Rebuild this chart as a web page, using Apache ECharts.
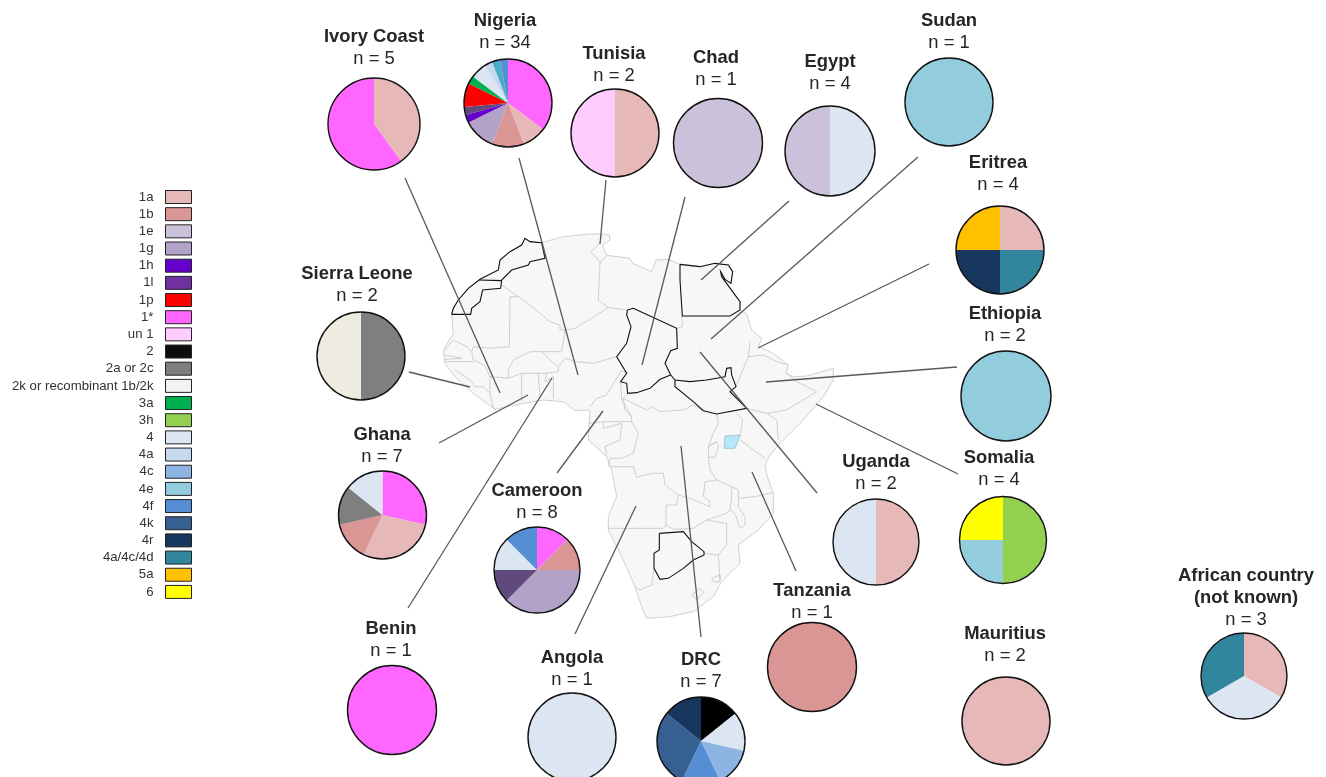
<!DOCTYPE html>
<html>
<head>
<meta charset="utf-8">
<title>Genotypes by African country</title>
<script src="https://cdn.jsdelivr.net/npm/echarts@6/dist/echarts.min.js"></script>
<style>
html, body { margin: 0; padding: 0; background: #fff; }
#chart { width: 1326px; height: 777px; }
</style>
</head>
<body>
<div id="chart"></div>
<script>
'use strict';
// legend
var genotypes = ['1a', '1b', '1e', '1g', '1h', '1l', '1p', '1*', 'un 1', '2', '2a or 2c', '2k or recombinant 1b/2k',
    '3a', '3h', '4', '4a', '4c', '4e', '4f', '4k', '4r', '4a/4c/4d', '5a', '6'];
var genotypeColors = ['#E6B8B7', '#D99694', '#CCC1DA', '#B3A2C7', '#6600CC', '#7030A0', '#FF0000', '#FF66FF', '#FFCCFF', '#0D0D0D', '#7F7F7F', '#F2F2F2',
    '#00B050', '#92D050', '#DCE6F2', '#C6D9F1', '#8EB4E3', '#93CDDD', '#558ED5', '#376092', '#17375E', '#31859C', '#FFC000', '#FFFF00'];
// a few slices are drawn in another shade than their legend box
var sliceColors = { '1l': '#604A7B', '2': '#000000', '2k or recombinant 1b/2k': '#EEECE1' };

// counts per country, clockwise from 12 o'clock
var ivoryCoast = [['1a', 2], ['1*', 3]];
var nigeria = [['1*', 12], ['1a', 3], ['1b', 4], ['1g', 4], ['1h', 1], ['1l', 1], ['1p', 3], ['3a', 1], ['4', 2], ['4a', 1], ['4e', 1, '#4BACC6'], ['4f', 1]];
var tunisia = [['1a', 1], ['un 1', 1]];
var chad = [['1e', 1]];
var egypt = [['4', 2], ['1e', 2]];
var sudan = [['4e', 1]];
var eritrea = [['1a', 1], ['4a/4c/4d', 1], ['4r', 1], ['5a', 1]];
var ethiopia = [['4e', 2]];
var somalia = [['3h', 2], ['4e', 1], ['6', 1]];
var uganda = [['1a', 1], ['4', 1]];
var tanzania = [['1b', 1]];
var mauritius = [['1a', 2]];
var unknownCountry = [['1a', 1], ['4', 1], ['4a/4c/4d', 1]];
var drc = [['2', 1], ['4', 1], ['4c', 1], ['4f', 1], ['4k', 2], ['4r', 1]];
var angola = [['4', 1]];
var benin = [['1*', 1]];
var cameroon = [['1*', 1], ['1b', 1], ['1g', 3], ['1l', 1], ['4', 1], ['4f', 1]];
var ghana = [['1*', 2], ['1a', 2], ['1b', 1], ['2a or 2c', 1], ['4', 1]];
var sierraLeone = [['2a or 2c', 1], ['2k or recombinant 1b/2k', 1]];

// name, n, slices
var countries = [
    { label: 'Ivory Coast', n: 5, slices: ivoryCoast, cx: 374, cy: 124, r: 46, tx: 374, ty: 36 },
    { label: 'Nigeria', n: 34, slices: nigeria, cx: 508, cy: 103, r: 44, tx: 505, ty: 20 },
    { label: 'Tunisia', n: 2, slices: tunisia, cx: 615, cy: 133, r: 44, tx: 614, ty: 53 },
    { label: 'Chad', n: 1, slices: chad, cx: 718, cy: 143, r: 44.5, tx: 716, ty: 57 },
    { label: 'Egypt', n: 4, slices: egypt, cx: 830, cy: 151, r: 45, tx: 830, ty: 61 },
    { label: 'Sudan', n: 1, slices: sudan, cx: 949, cy: 102, r: 44, tx: 949, ty: 20 },
    { label: 'Eritrea', n: 4, slices: eritrea, cx: 1000, cy: 250, r: 44, tx: 998, ty: 162 },
    { label: 'Ethiopia', n: 2, slices: ethiopia, cx: 1006, cy: 396, r: 45, tx: 1005, ty: 313 },
    { label: 'Somalia', n: 4, slices: somalia, cx: 1003, cy: 540, r: 43.5, tx: 999, ty: 457 },
    { label: 'Uganda', n: 2, slices: uganda, cx: 876, cy: 542, r: 43, tx: 876, ty: 461 },
    { label: 'Tanzania', n: 1, slices: tanzania, cx: 812, cy: 667, r: 44.5, tx: 812, ty: 590 },
    { label: 'Mauritius', n: 2, slices: mauritius, cx: 1006, cy: 721, r: 44, tx: 1005, ty: 633 },
    { label: 'African country\n(not known)', n: 3, slices: unknownCountry, cx: 1244, cy: 676, r: 43, tx: 1246, ty: 575 },
    { label: 'DRC', n: 7, slices: drc, cx: 701, cy: 741, r: 44, tx: 701, ty: 659 },
    { label: 'Angola', n: 1, slices: angola, cx: 572, cy: 737, r: 44, tx: 572, ty: 657 },
    { label: 'Benin', n: 1, slices: benin, cx: 392, cy: 710, r: 44.5, tx: 391, ty: 628 },
    { label: 'Cameroon', n: 8, slices: cameroon, cx: 537, cy: 570, r: 43, tx: 537, ty: 490 },
    { label: 'Ghana', n: 7, slices: ghana, cx: 382.5, cy: 515, r: 44, tx: 382, ty: 434 },
    { label: 'Sierra Leone', n: 2, slices: sierraLeone, cx: 361, cy: 356, r: 44, tx: 357, ty: 273 }
];

// leader lines, page pixels
var leaders = [
    [[405, 178], [500, 393]], [[519, 158], [578, 375]], [[606, 180], [600, 244]], [[685, 197], [642, 365]],
    [[789, 201], [701, 280]], [[918, 157], [711, 339]], [[929, 264], [758, 348]], [[957, 367], [766, 382]],
    [[958, 474], [816, 404]], [[817, 493], [700, 352]], [[796, 571], [752, 472]], [[701, 637], [681, 446]],
    [[575, 634], [636, 506]], [[557, 473], [603, 411]], [[408, 608], [552, 378]], [[439, 443], [528, 395]],
    [[409, 372], [470, 387]]
];

// map outlines traced at 3x, origin at (430, 220)
var coast = [[285,55],[300,65],[335,68],[400,50],[480,42],[515,42],[538,45],[540,60],[518,75],[530,105],[545,108],[600,115],[608,130],[665,155],[678,120],[715,118],[750,133],
    [810,140],[855,130],[895,135],[908,155],[903,190],[885,178],[872,155],[875,170],[930,245],[930,270],[950,282],[965,330],[995,355],[985,380],[1030,400],[1075,435],[1068,460],[1090,470],[1130,468],[1210,445],[1210,480],[1180,530],[1120,600],[1050,670],
    [1020,705],[1005,735],[1012,770],[1030,820],[1030,880],[985,930],[925,975],[930,1030],[875,1085],[850,1130],[790,1175],[720,1190],[650,1195],[635,1160],[615,1100],[580,1020],[535,930],[535,890],[560,830],[545,750],[530,710],[475,660],[480,570],
    [435,572],[400,545],[340,540],[280,550],[195,568],[130,520],[75,470],[45,430],[40,390],[70,340],[65,283],[70,265],[85,240],[115,205],[150,178],[205,150],[210,120],[240,95],[275,75]];
var lakeVictoria = [[885,648],[930,645],[925,660],[915,685],[882,685]];
var greyBorders = [
    [[215,195],[300,255],[360,305],[390,315],[390,330],[405,330],[435,325],[535,263],[592,270]],
    [[240,230],[265,230]], [[240,230],[238,380],[180,385],[130,380],[125,395]],
    [[45,390],[70,360],[110,380],[125,395],[130,420],[165,437],[180,470],[235,475],[275,460],[325,460],[350,460],[385,455],[385,440],[405,415],[440,425],[490,430],[560,410]],
    [[235,475],[235,450],[250,420],[300,395],[335,395],[365,425],[385,440]], [[335,395],[395,395],[405,330]],
    [[275,460],[275,545]], [[325,460],[330,537]], [[350,460],[345,485],[370,470]], [[370,470],[370,537]],
    [[45,405],[70,410],[95,415],[45,418]], [[45,425],[130,425]], [[75,450],[120,480],[135,500],[160,500],[180,520],[190,565]], [[180,470],[180,520]],
    [[480,560],[500,535],[530,525],[575,450],[590,460]], [[572,485],[575,540],[605,590],[605,605],[520,605]],
    [[475,610],[520,605],[520,625],[575,610],[570,660],[525,680],[530,705]],
    [[605,605],[625,640],[610,700],[575,715],[540,715],[535,740]],
    [[593,520],[580,535],[585,570],[605,590]], [[580,535],[650,570],[665,560],[690,575],[760,570],[790,555],[820,572]],
    [[860,582],[865,610],[850,640],[835,680],[835,712],[840,750],[860,780],[825,785],[820,830],[840,845],[840,860],[815,850],[780,835],[745,825],[705,795],[700,760],[665,760],[620,772],[610,740],[540,740]],
    [[745,825],[740,855],[708,855],[708,915],[730,928],[790,925],[830,900],[890,880],[900,870]],
    [[535,925],[620,925],[700,925],[708,915]],
    [[905,800],[925,810],[925,860],[945,890],[945,915],[930,925],[915,880],[900,870],[905,830],[905,800]],
    [[860,780],[905,800]], [[925,835],[975,830],[1028,818]], [[930,660],[1005,715]],
    [[930,650],[938,600],[920,580]], [[835,680],[860,665],[865,680],[855,712],[835,712]],
    [[1040,600],[1045,660]], [[950,565],[1010,580],[1040,600]], [[1010,580],[1070,570],[1160,515],[1100,485],[1070,460]],
    [[955,410],[1000,405],[1040,425],[1075,435]], [[960,365],[955,410],[930,470],[918,500]],
    [[830,900],[890,910],[890,975],[865,1005],[822,1000]], [[865,1005],[870,1080]],
    [[845,1075],[870,1065],[870,1085],[850,1085],[845,1075]], [[785,1125],[810,1105],[822,1118],[800,1138],[785,1125]],
    [[672,1045],[665,1095],[630,1110],[615,1100]],
    [[505,240],[510,130],[530,105]], [[515,42],[510,70],[482,95],[510,125],[510,130]], [[505,240],[535,263]], [[610,265],[740,325]], [[755,288],[757,320],[740,325]],
    [[835,680],[860,665]]
];
var blackBorders = [
    [[65,283],[70,265],[85,240],[115,205],[150,178],[205,150],[210,120],[240,95],[275,75],[285,55],[300,65],[335,68],[345,115],[300,125],[295,135],[245,150],[215,180],[212,205],[158,210],[150,245],[125,265],[122,283],[65,283]],
    [[148,180],[215,182]],
    [[750,133],[810,140],[855,130],[895,135],[908,155],[903,190],[885,178],[872,155],[875,170],[930,245],[930,270],[900,288],[757,288],[750,180],[750,133]],
    [[592,270],[610,265],[740,325],[742,385],[722,392],[705,430],[722,465],[690,478],[660,505],[620,518],[593,520],[590,490],[572,485],[590,460],[560,410],[590,370],[603,320],[590,285],[592,270]],
    [[722,465],[735,480],[780,485],[830,480],[885,470],[890,445],[903,443],[905,465],[918,500],[900,515],[950,565],[860,582],[820,572],[790,545],[735,500],[735,480]],
    [[688,940],[760,935],[785,965],[822,995],[822,1005],[790,1020],[760,1045],[715,1075],[690,1078],[672,1045],[672,1000],[688,990],[688,940]]
];

function traced(p) {
    return [430 + p[0] / 3, -(220 + p[1] / 3)];
}
function page(p) {
    return [p[0], -p[1]];
}
function polylineData(list, fn) {
    return list.map(function (line) {
        return { coords: line.map(fn) };
    });
}

function init() {
    const africa = {
        type: 'FeatureCollection',
        features: [
            { type: 'Feature', properties: { name: 'Africa' }, geometry: { type: 'Polygon', coordinates: [coast.concat([coast[0]]).map(traced)] } },
            { type: 'Feature', properties: { name: 'Lake Victoria' }, geometry: { type: 'Polygon', coordinates: [lakeVictoria.concat([lakeVictoria[0]]).map(traced)] } }
        ]
    };
    echarts.registerMap('africa', africa);

    const series = [
        {
            type: 'lines', coordinateSystem: 'geo', polyline: true, silent: true, z: 3,
            lineStyle: { color: '#bdbdbd', width: 0.7, opacity: 1 },
            data: polylineData(greyBorders, traced)
        },
        {
            type: 'lines', coordinateSystem: 'geo', polyline: true, silent: true, z: 4,
            lineStyle: { color: '#111111', width: 1.1, opacity: 1 },
            data: polylineData(blackBorders, traced)
        },
        {
            type: 'lines', coordinateSystem: 'geo', polyline: true, silent: true, z: 5,
            lineStyle: { color: '#595959', width: 1.3, opacity: 1 },
            data: polylineData(leaders, page)
        }
    ];
    countries.forEach(function (c) {
        series.push({
            type: 'pie', silent: true, z: 6, name: c.label,
            center: [c.cx, c.cy], radius: [0, c.r], startAngle: 90,
            label: { show: false }, labelLine: { show: false },
            data: c.slices.map(function (s) {
                const color = s[2] || sliceColors[s[0]] || genotypeColors[genotypes.indexOf(s[0])];
                return { name: s[0], value: s[1], itemStyle: { color: color } };
            })
        });
        // black rim
        series.push({
            type: 'pie', silent: true, z: 7, name: c.label + ' rim',
            center: [c.cx, c.cy], radius: [0, c.r], startAngle: 90,
            label: { show: false }, labelLine: { show: false },
            data: [{ name: 'rim', value: 1, itemStyle: { color: 'none', borderColor: '#111111', borderWidth: 1.4 } }]
        });
    });

    const option = {
        animation: false,
        backgroundColor: '#ffffff',
        textStyle: { fontFamily: '"Liberation Sans", Arial, sans-serif' },
        title: countries.map(function (c) {
            return {
                text: c.label,
                subtext: 'n = ' + c.n,
                left: c.tx,
                top: c.ty - 10,
                textAlign: 'center',
                padding: 0,
                itemGap: 0,
                textStyle: { fontFamily: '"Liberation Sans", Arial, sans-serif', fontSize: 18.4, fontWeight: 'bold', color: '#262626', lineHeight: 22 },
                subtextStyle: { fontFamily: '"Liberation Sans", Arial, sans-serif', fontSize: 18.4, color: '#262626', lineHeight: 22 }
            };
        }),
        legend: {
            orient: 'vertical',
            align: 'right',
            right: 1134,
            top: 190,
            padding: 0,
            itemWidth: 26,
            itemHeight: 13,
            itemGap: 3.17,
            selectedMode: false,
            textStyle: { fontFamily: '"Liberation Sans", Arial, sans-serif', fontSize: 13.2, lineHeight: 12, color: '#333333', padding: [0, 7, 0, 0] },
            data: genotypes.map(function (name, i) {
                return { name: name, icon: 'rect', itemStyle: { color: genotypeColors[i], borderColor: '#222222', borderWidth: 1 } };
            })
        },
        geo: {
            map: 'africa',
            boundingCoords: [[0, 0], [1326, -777]],
            left: 0,
            top: 0,
            width: 1326,
            height: 777,
            aspectScale: 1,
            silent: true,
            label: { show: false },
            itemStyle: { areaColor: '#F7F7F7', borderColor: '#bdbdbd', borderWidth: 0.7 },
            regions: [{ name: 'Lake Victoria', itemStyle: { areaColor: '#B7E8F8', borderColor: '#8fb8c8' } }]
        },
        series: series
    };

    const chart = echarts.init(document.getElementById('chart'));
    chart.setOption(option);
}

(function () {
    init();
})();
</script>
</body>
</html>
